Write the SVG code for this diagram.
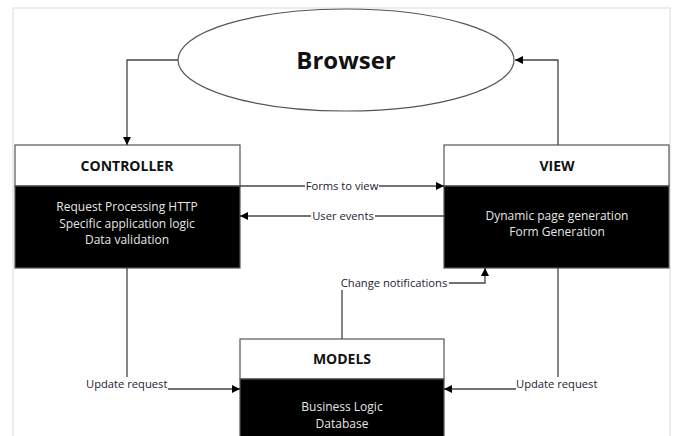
<svg xmlns="http://www.w3.org/2000/svg" width="675" height="436" viewBox="0 0 675 436">
  <style>
    .frame { fill: #ffffff; stroke: #dcdcdc; stroke-width: 1; }
    .hdr { fill: #ffffff; stroke: #555555; stroke-width: 1.2; }
    .body { fill: #000000; stroke: #555555; stroke-width: 1.2; }
    .title { font-family: "Open Sans", "Liberation Sans", sans-serif; font-weight: bold; font-size: 14px; fill: #111111; text-anchor: middle; }
    .txt { font-family: "Open Sans", "Liberation Sans", sans-serif; font-size: 12px; fill: #e6e6e6; text-anchor: middle; }
    .lbl { font-family: "Open Sans", "Liberation Sans", sans-serif; font-size: 11.2px; fill: #222233; }
    .mask { fill: #ffffff; }
    .conn { fill: none; stroke: #444444; stroke-width: 1.3; }
  </style>
  <defs>
    <marker id="arrow" viewBox="0 0 10 10" refX="10" refY="5" markerWidth="8" markerHeight="8" markerUnits="userSpaceOnUse" orient="auto">
      <path d="M0,0 L10,5 L0,10 z" fill="#000000"/>
    </marker>
  </defs>

  <rect class="frame" x="13" y="8" width="657" height="440"/>

  <g id="browser">
    <ellipse cx="346" cy="60" rx="168" ry="51" fill="#ffffff" stroke="#555555" stroke-width="1.2"/>
    <text x="346" y="69" font-family="Open Sans, Liberation Sans, sans-serif" font-weight="bold" font-size="24" fill="#111111" text-anchor="middle">Browser</text>
  </g>

  <g id="controller">
    <rect class="hdr" x="15" y="145" width="225" height="41"/>
    <rect class="body" x="15" y="186" width="225" height="82"/>
    <text class="title" x="127" y="171">CONTROLLER</text>
    <text class="txt" x="127" y="211">Request Processing HTTP</text>
    <text class="txt" x="127" y="228">Specific application logic</text>
    <text class="txt" x="127" y="244">Data validation</text>
  </g>

  <g id="view">
    <rect class="hdr" x="444" y="145" width="225" height="41"/>
    <rect class="body" x="444" y="186" width="225" height="82"/>
    <text class="title" x="557" y="171">VIEW</text>
    <text class="txt" x="557" y="220">Dynamic page generation</text>
    <text class="txt" x="557" y="236">Form Generation</text>
  </g>

  <g id="models">
    <rect class="hdr" x="240" y="339" width="204" height="40"/>
    <rect class="body" x="240" y="379" width="204" height="70"/>
    <text class="title" x="342" y="364">MODELS</text>
    <text class="txt" x="342" y="411">Business Logic</text>
    <text class="txt" x="342" y="428">Database</text>
  </g>

  <g id="connectors">
    <!-- Browser to controller -->
    <path class="conn" d="M178,60 H127 V145" marker-end="url(#arrow)"/>
    <!-- View back to browser -->
    <path class="conn" d="M558,145 V60 H515" marker-end="url(#arrow)"/>
    <!-- Forms to view -->
    <path class="conn" d="M240,186 H444" marker-end="url(#arrow)"/>
    <rect class="mask" x="305" y="180" width="74" height="12"/>
    <text class="lbl" x="342" y="190" text-anchor="middle">Forms to view</text>
    <!-- User events -->
    <path class="conn" d="M444,216 H240" marker-end="url(#arrow)"/>
    <rect class="mask" x="311" y="210" width="64" height="12"/>
    <text class="lbl" x="343" y="220" text-anchor="middle">User events</text>
    <!-- Change notifications -->
    <path class="conn" d="M342,339 V283 H485 V268" marker-end="url(#arrow)"/>
    <rect class="mask" x="339" y="277" width="110" height="13"/>
    <text class="lbl" x="394" y="287" text-anchor="middle">Change notifications</text>
    <!-- Update request from controller -->
    <path class="conn" d="M127,268 V377"/>
    <path class="conn" d="M168,389 H240" marker-end="url(#arrow)"/>
    <text class="lbl" x="86" y="388">Update request</text>
    <!-- Update request from view -->
    <path class="conn" d="M558,268 V377"/>
    <path class="conn" d="M516,389 H444" marker-end="url(#arrow)"/>
    <text class="lbl" x="516" y="388">Update request</text>
  </g>
</svg>
